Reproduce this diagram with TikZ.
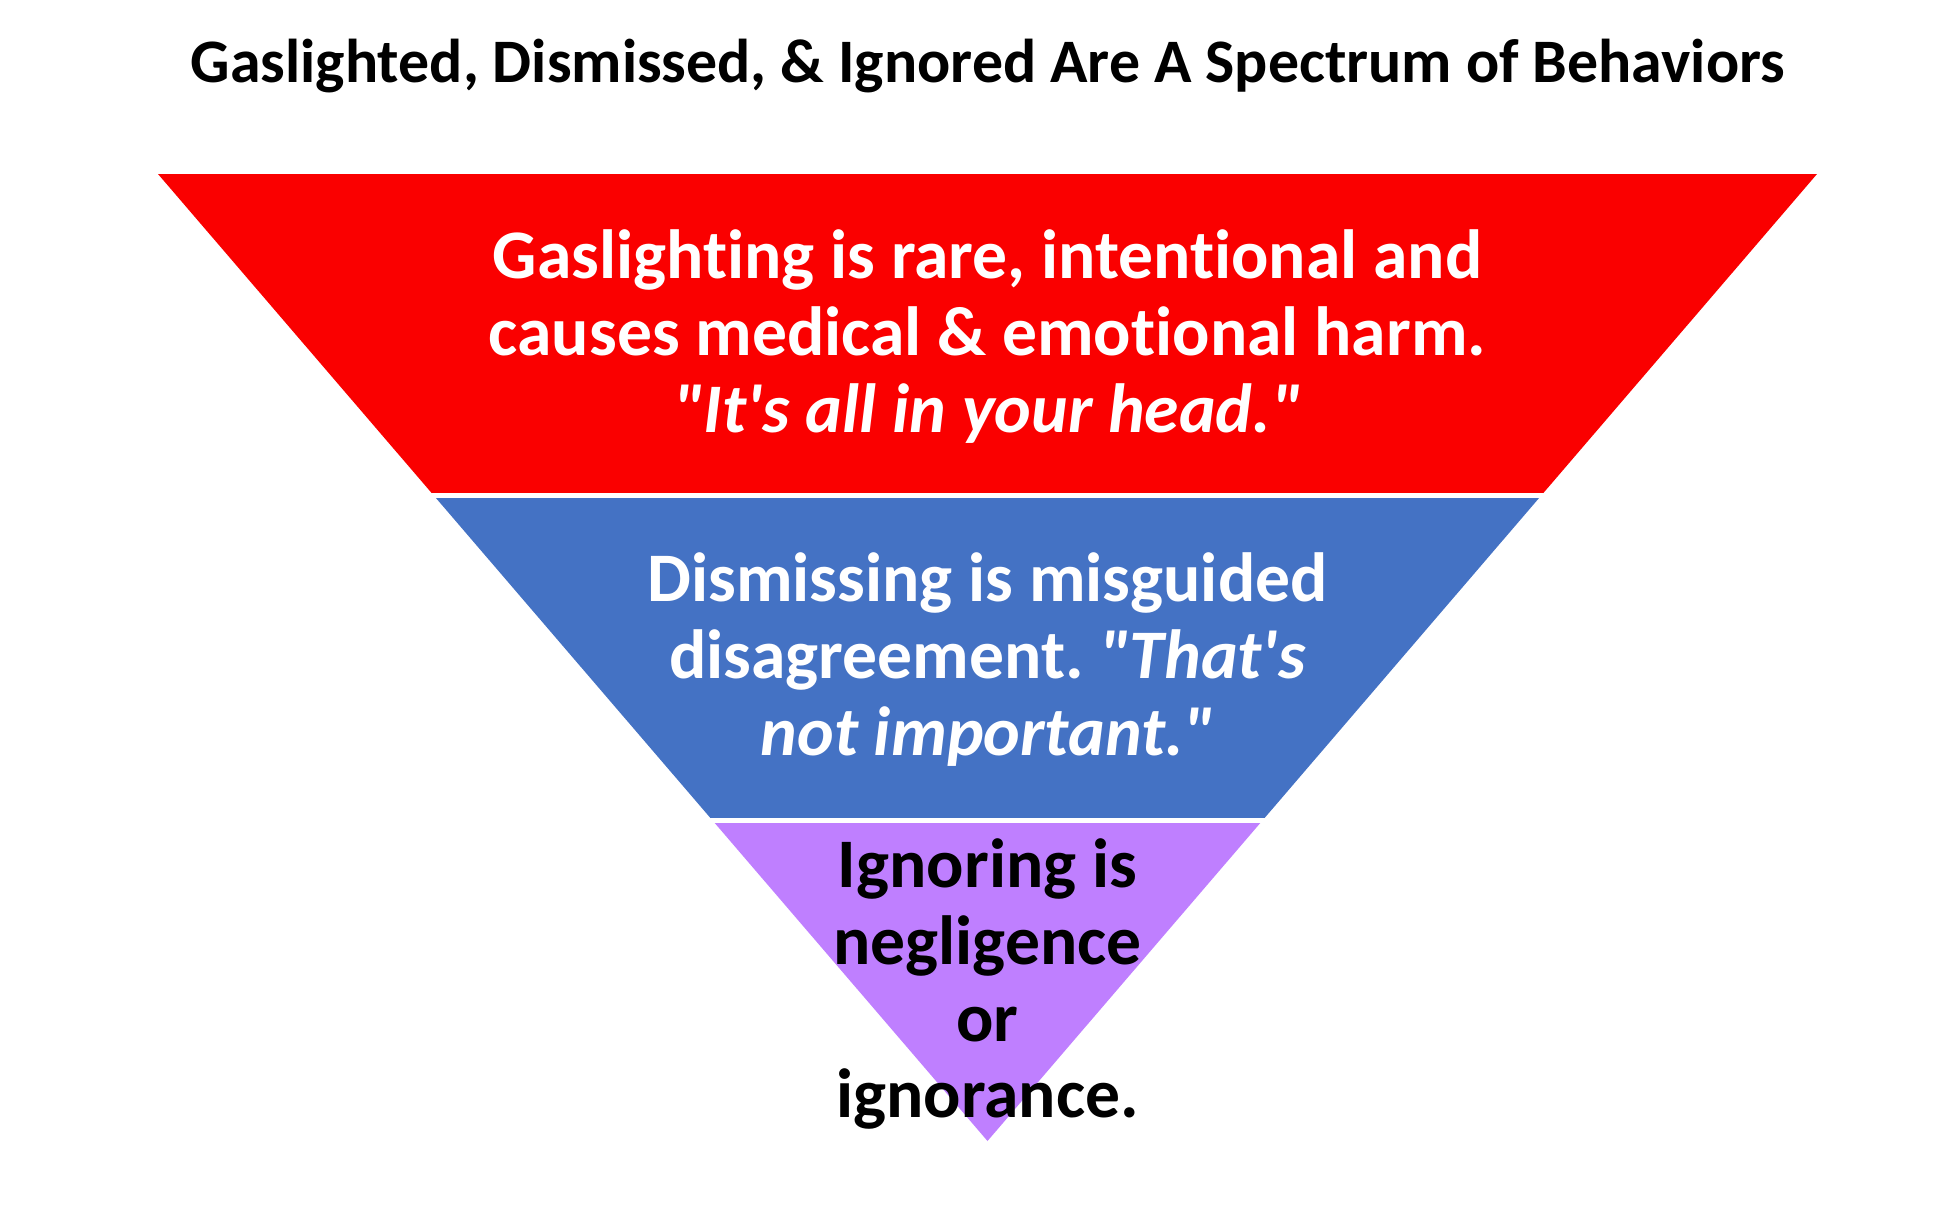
\documentclass[tikz,border=0pt]{standalone}
\usepackage{fontspec}
\setmainfont{Carlito}[Ligatures={TeXOff,CommonOff}]
\usepackage{tikz}
\usetikzlibrary{positioning}
\usetikzlibrary{calc}
\definecolor[named]{pyramidred}{RGB}{250,0,0}
\definecolor[named]{pyramidblue}{RGB}{68,114,196}
\definecolor[named]{pyramidviolet}{RGB}{191,127,255}
\frenchspacing

\begin{document}
\begin{tikzpicture}[scale=1]
   \useasboundingbox (0,0) rectangle (19.54,-12.06);
   \coordinate (topleft) at (1.58,-1.74);
   \coordinate (topright) at (18.17,-1.74);
   \coordinate (apex) at (9.875,-11.41);
   % three bands of one upside-down triangle
   \foreach \a/\b/\col in {0/0.3325/pyramidred,0.3325/0.6686/pyramidblue,0.6686/1/pyramidviolet}
      \fill[\col] ($(topleft)!\a!(apex)$) -- ($(topright)!\a!(apex)$) -- ($(topright)!\b!(apex)$) -- ($(topleft)!\b!(apex)$) -- cycle;
   \foreach \a in {0.3325,0.6686}
      \draw[white,line width=0.5mm] ($(topleft)!\a!(apex)+(-0.1,0)$) -- ($(topright)!\a!(apex)+(0.1,0)$);
   \tikzstyle{every node}=[inner sep=0pt,align=center,font=\bfseries\fontsize{19.8}{21.9}\selectfont];
   \node[anchor=base,font=\bfseries\fontsize{17.6}{20}\selectfont] (title) at (9.88,-0.82) {Gaslighted, Dismissed, \& Ignored Are A Spectrum of Behaviors};
   \node[white] (gaslighting) at (9.875,-3.37) {Gaslighting is rare, intentional and\\causes medical \& emotional harm.\\\textit{"It's all in your head."}};
   \node[white] (dismissing) at (9.875,-6.595) {Dismissing is misguided\\disagreement. \textit{"That's}\\\textit{not important."}};
   \node[black] (ignoring) at (9.875,-9.84) {Ignoring is\\negligence\\or\\ignorance.};
\end{tikzpicture}
\end{document}
